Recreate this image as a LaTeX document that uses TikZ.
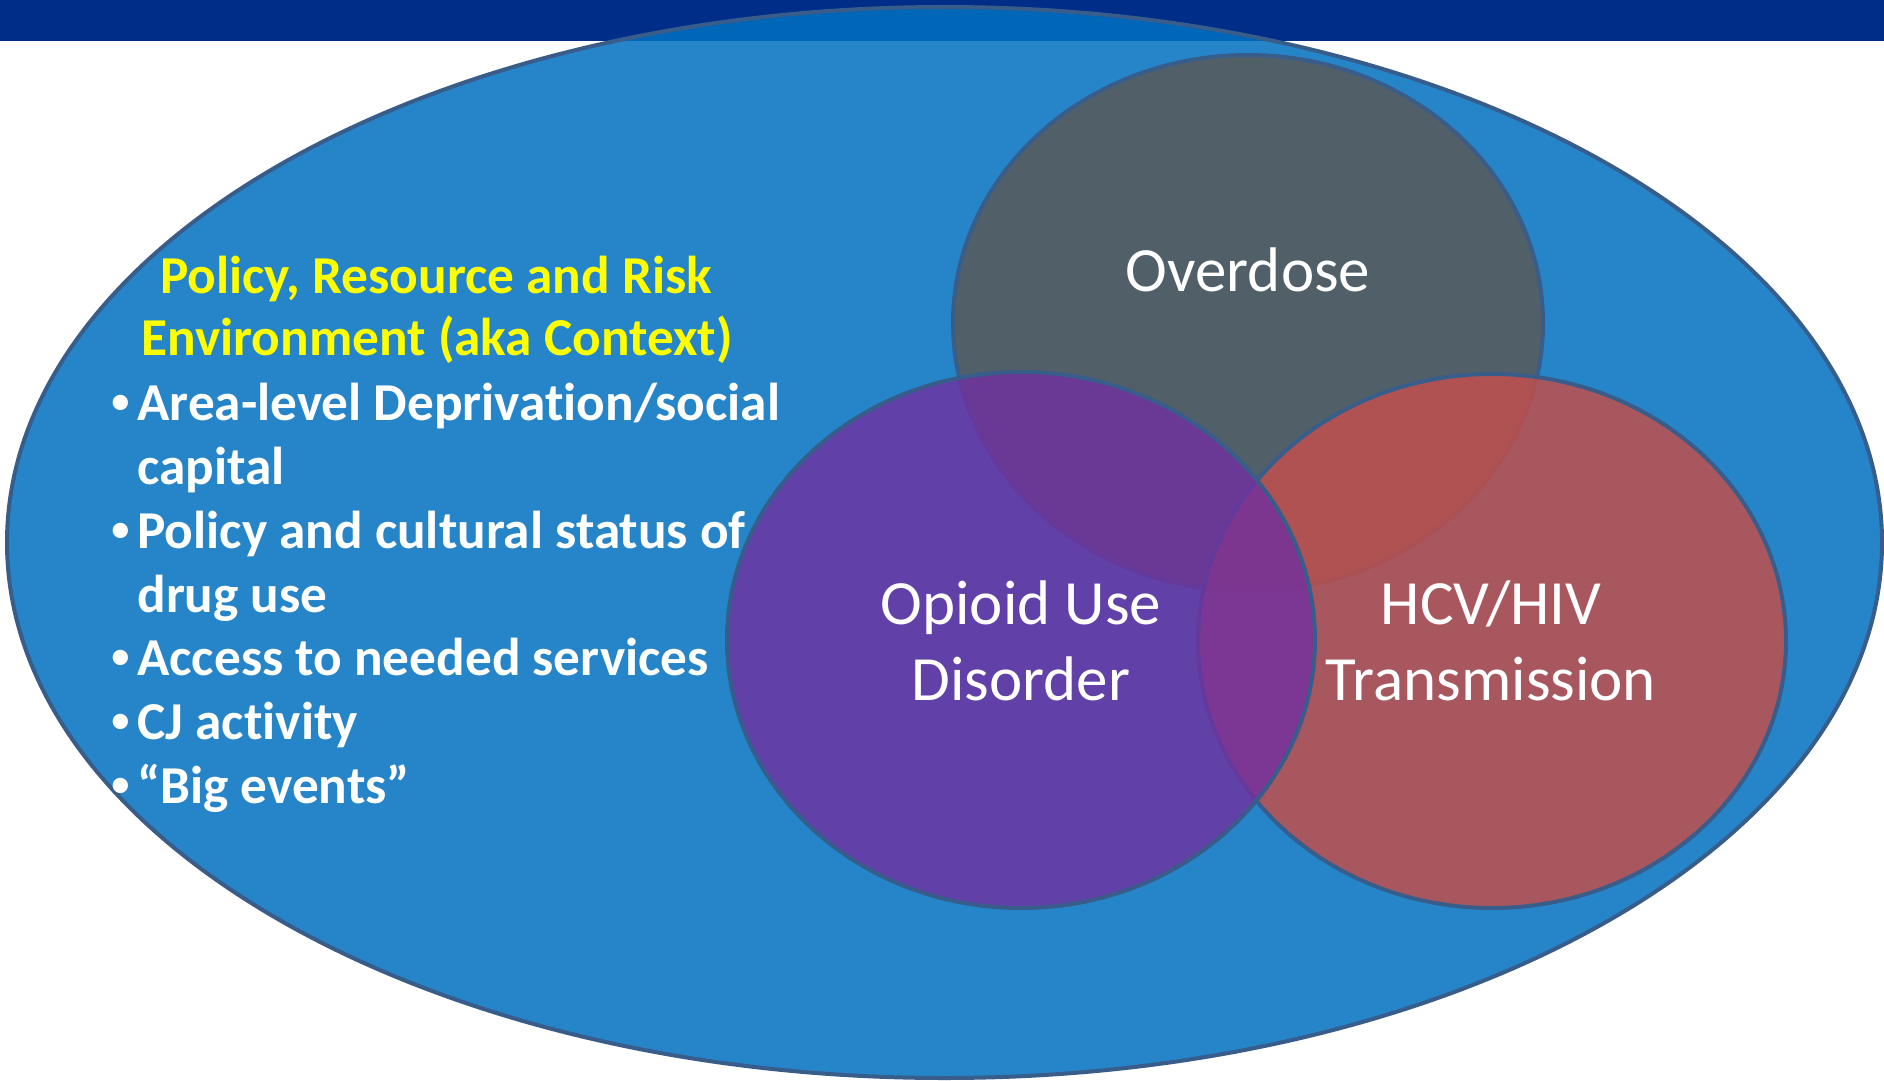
\documentclass[tikz,border=0pt]{standalone}
\usepackage{fontspec}
\setmainfont{Carlito}[Ligatures=NoCommon]
\newfontfamily\bulfont{Liberation Sans}
\definecolor{barnavy}{HTML}{002D87}
\definecolor{ctxblue}{HTML}{0070C0}
\definecolor{rimblue}{HTML}{385D8A}
\definecolor{odgray}{HTML}{595959}
\definecolor{hcvred}{HTML}{C0504D}
\definecolor{oudpurple}{HTML}{7030A0}
\definecolor{headyellow}{HTML}{FFFF00}
\newcommand\bul{\makebox[13pt][l]{\bulfont •}}
\begin{document}
\begin{tikzpicture}[x=0.5pt,y=-0.5pt,
  rim/.style={draw=rimblue, line width=2pt},
  label/.style={inner sep=0, anchor=base, text=white,
    font=\fontsize{31.5pt}{38pt}\selectfont},
  head/.style={inner sep=0, anchor=base, text=headyellow,
    font=\bfseries\fontsize{26.65pt}{32pt}\selectfont},
  item/.style={inner sep=0, anchor=base west, text=white,
    font=\bfseries\fontsize{26.65pt}{32pt}\selectfont}]
\useasboundingbox (0,0) rectangle (1884,1081);
\fill[white] (0,0) rectangle (1884,1081);
% title bar
\fill[barnavy] (0,0) rectangle (1884,41);
% context ellipse
\path[rim, fill=ctxblue, fill opacity=0.85]
  (944.5,542.5) ellipse [x radius=937.5, y radius=535.5];
% three overlapping circles
\path[rim, fill=odgray, fill opacity=0.85]
  (1248,323) ellipse [x radius=295, y radius=268];
\path[rim, fill=hcvred, fill opacity=0.85]
  (1492,641) ellipse [x radius=294, y radius=267];
\path[rim, fill=oudpurple, fill opacity=0.8]
  (1021,640) ellipse [x radius=294, y radius=268];
% circle labels
\node[label] (od) at (1248,291) {Overdose};
\node[label] (oud1) at (1021,624) {Opioid Use};
\node[label] (oud2) at (1021,700) {Disorder};
\node[label] (hcv1) at (1491,624) {HCV/HIV};
\node[label] (hcv2) at (1491,700) {Transmission};
% context heading and list
\node[head] (h1) at (436,293) {Policy, Resource and Risk};
\node[head] (h2) at (437,355) {Environment (aka Context)};
\node[item] (i1) at (111,420) {\bul Area-level Deprivation/social};
\node[item] (i1b) at (137,484) {capital};
\node[item] (i2) at (111,548) {\bul Policy and cultural status of};
\node[item] (i2b) at (137,612) {drug use};
\node[item] (i3) at (111,675) {\bul Access to needed services};
\node[item] (i4) at (111,739) {\bul CJ activity};
\node[item] (i5) at (111,803) {\bul “Big events”};
\end{tikzpicture}
\end{document}
